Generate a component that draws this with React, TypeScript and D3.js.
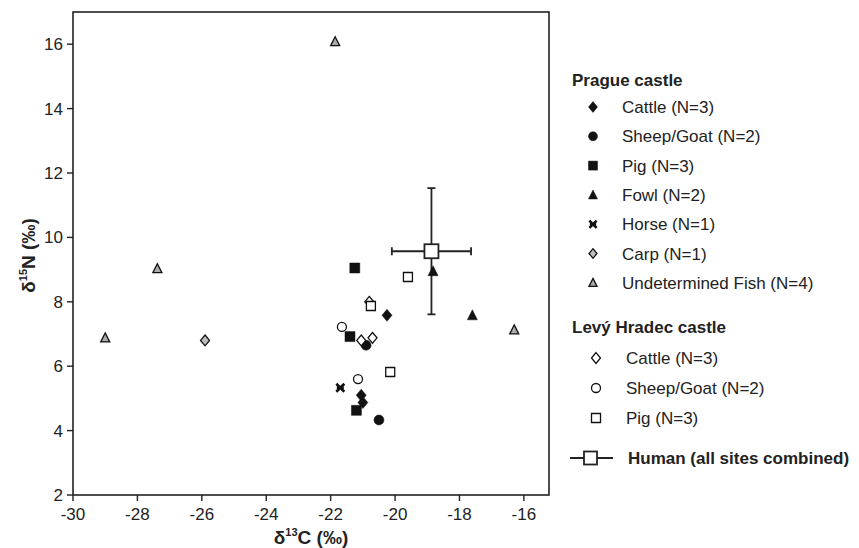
import React from 'react';
import * as d3 from 'd3';

// δ13C, δ15N pairs
const pragueCattle = [[-20.25, 7.58], [-21.05, 5.1], [-21.0, 4.87]];
const pragueSheep = [[-20.9, 6.65], [-20.5, 4.33]];
const praguePig = [[-21.25, 9.05], [-21.4, 6.92], [-21.2, 4.63]];
const pragueFowl = [[-18.82, 8.95], [-17.6, 7.58]];
const pragueHorse = [[-21.7, 5.33]];
const pragueCarp = [[-25.9, 6.8]];
const pragueFish = [[-21.86, 16.08], [-27.38, 9.03], [-29.0, 6.88], [-16.3, 7.13]];
const levyCattle = [[-20.8, 8.0], [-21.05, 6.8], [-20.7, 6.88]];
const levySheep = [[-21.65, 7.22], [-21.15, 5.6]];
const levyPig = [[-19.6, 8.77], [-20.75, 7.87], [-20.15, 5.82]];
const human = { x: -18.87, y: 9.57, sdX: 1.23, sdY: 1.96 };

const xTicks = [-30, -28, -26, -24, -22, -20, -18, -16];
const yTicks = [2, 4, 6, 8, 10, 12, 14, 16];

const W = 859;
const H = 548;
const plot = { left: 73, right: 549, top: 12, bottom: 495 };
const FONT = 'Liberation Sans, Arial, sans-serif';

type Kind = 'diamond' | 'circle' | 'square' | 'triangle' | 'horse';

const shapePath = (kind: Kind, s: number) => {
  switch (kind) {
    case 'diamond':
      return `M0,${-s * 0.6}L${s * 0.5},0L0,${s * 0.6}L${-s * 0.5},0Z`;
    case 'circle':
      return d3.symbol(d3.symbolCircle, Math.PI * (s / 2) ** 2)()!;
    case 'square':
      return `M${-s / 2},${-s / 2}h${s}v${s}h${-s}Z`;
    case 'triangle':
      return `M0,${-s * 0.55}L${s * 0.5},${s * 0.45}L${-s * 0.5},${s * 0.45}Z`;
    case 'horse':
      return `M${-s * 0.4},${-s * 0.4}L${s * 0.4},${s * 0.4}M${s * 0.4},${-s * 0.4}L${-s * 0.4},${s * 0.4}M${-s * 0.35},0L${s * 0.35},0`;
  }
};

const Marker = ({ kind, fill, x, y, size = 10 }: { kind: Kind; fill: string; x: number; y: number; size?: number }) => {
  if (kind === 'horse') {
    return <path d={shapePath(kind, size)} transform={`translate(${x},${y})`} stroke="#111" strokeWidth={2.6} fill="none" />;
  }
  const filled = fill === '#111';
  return (
    <path
      d={shapePath(kind, filled ? size : size - 1)}
      transform={`translate(${x},${y})`}
      fill={fill}
      stroke="#111"
      strokeWidth={filled ? 0.5 : 1.3}
    />
  );
};

const series: { name: string; data: number[][]; kind: Kind; fill: string }[] = [
  { name: 'Cattle (N=3)', data: pragueCattle, kind: 'diamond', fill: '#111' },
  { name: 'Sheep/Goat (N=2)', data: pragueSheep, kind: 'circle', fill: '#111' },
  { name: 'Pig (N=3)', data: praguePig, kind: 'square', fill: '#111' },
  { name: 'Fowl (N=2)', data: pragueFowl, kind: 'triangle', fill: '#111' },
  { name: 'Horse (N=1)', data: pragueHorse, kind: 'horse', fill: '#111' },
  { name: 'Carp (N=1)', data: pragueCarp, kind: 'diamond', fill: '#bdbdbd' },
  { name: 'Undetermined Fish (N=4)', data: pragueFish, kind: 'triangle', fill: '#ababab' },
];
const levySeries: { name: string; data: number[][]; kind: Kind; fill: string }[] = [
  { name: 'Cattle (N=3)', data: levyCattle, kind: 'diamond', fill: '#fff' },
  { name: 'Sheep/Goat (N=2)', data: levySheep, kind: 'circle', fill: '#fff' },
  { name: 'Pig (N=3)', data: levyPig, kind: 'square', fill: '#fff' },
];

export default function App() {
  const x = d3.scaleLinear().domain([-30, -15.22]).range([plot.left, plot.right]);
  const y = d3.scaleLinear().domain([2, 17]).range([plot.bottom, plot.top]);
  const [x0, x1] = x.range();
  const [y0, y1] = y.range();

  const hx = x(human.x);
  const hy = y(human.y);
  const hxl = x(human.x - human.sdX);
  const hxr = x(human.x + human.sdX);
  const hyt = y(human.y + human.sdY);
  const hyb = y(human.y - human.sdY);

  return (
    <svg width={W} height={H} style={{ position: 'absolute', left: 0, top: 0, background: '#fff' }} fontFamily={FONT}>
      {/* axes box */}
      <rect x={x0} y={y1} width={x1 - x0} height={y0 - y1} fill="none" stroke="#222" strokeWidth={1.6} />
      {xTicks.map((t) => (
        <g key={t}>
          <line x1={x(t)} x2={x(t)} y1={y0} y2={y0 + 6} stroke="#222" strokeWidth={1.4} />
          <text x={x(t)} y={y0 + 25} textAnchor="middle" fontSize={17} fill="#222">{t}</text>
        </g>
      ))}
      {yTicks.map((t) => (
        <g key={t}>
          <line x1={x0 - 6} x2={x0} y1={y(t)} y2={y(t)} stroke="#222" strokeWidth={1.4} />
          <text x={x0 - 10} y={y(t) + 6} textAnchor="end" fontSize={17} fill="#222">{t}</text>
        </g>
      ))}
      <text x={(x0 + x1) / 2} y={544} textAnchor="middle" fontSize={19} fontWeight="bold" fill="#222">
        δ<tspan fontSize={11} dy={-8}>13</tspan><tspan dy={8}>C (‰)</tspan>
      </text>
      <text transform={`translate(35,${(y0 + y1) / 2 + 2}) rotate(-90)`} textAnchor="middle" fontSize={19} fontWeight="bold" fill="#222">
        δ<tspan fontSize={11} dy={-8}>15</tspan><tspan dy={8}>N (‰)</tspan>
      </text>

      {/* human mean with SD bars */}
      <g stroke="#222" strokeWidth={1.8}>
        <line x1={hxl} x2={hxr} y1={hy} y2={hy} />
        <line x1={hxl} x2={hxl} y1={hy - 4} y2={hy + 4} />
        <line x1={hxr} x2={hxr} y1={hy - 4} y2={hy + 4} />
        <line x1={hx} x2={hx} y1={hyt} y2={hyb} />
        <line x1={hx - 4} x2={hx + 4} y1={hyt} y2={hyt} />
        <line x1={hx - 4} x2={hx + 4} y1={hyb} y2={hyb} />
      </g>

      {[...series, ...levySeries].map((s) =>
        s.data.map((d, i) => <Marker key={s.name + s.kind + s.fill + i} kind={s.kind} fill={s.fill} x={x(d[0])} y={y(d[1])} />)
      )}
      <rect x={hx - 7} y={hy - 7} width={14} height={14} fill="#fff" stroke="#222" strokeWidth={1.8} />

      {/* legend */}
      <g fontSize={17} fill="#222">
        <text x={572} y={86} fontWeight="bold">Prague castle</text>
        {series.map((s, i) => (
          <g key={s.name} transform={`translate(0,${107 + i * 29.3})`}>
            <Marker kind={s.kind} fill={s.fill} x={593} y={0} size={9} />
            <text x={622} y={6}>{s.name}</text>
          </g>
        ))}
        <text x={572} y={333} fontWeight="bold">Levý Hradec castle</text>
        {levySeries.map((s, i) => (
          <g key={s.name} transform={`translate(0,${358 + i * 30})`}>
            <Marker kind={s.kind} fill={s.fill} x={596} y={0} size={10} />
            <text x={626} y={6}>{s.name}</text>
          </g>
        ))}
        <g transform="translate(0,458)">
          <line x1={570} x2={613} y1={0} y2={0} stroke="#222" strokeWidth={1.8} />
          <rect x={584} y={-6.5} width={13} height={13} fill="#fff" stroke="#222" strokeWidth={1.8} />
          <text x={628} y={6} fontWeight="bold">Human (all sites combined)</text>
        </g>
      </g>
    </svg>
  );
}
